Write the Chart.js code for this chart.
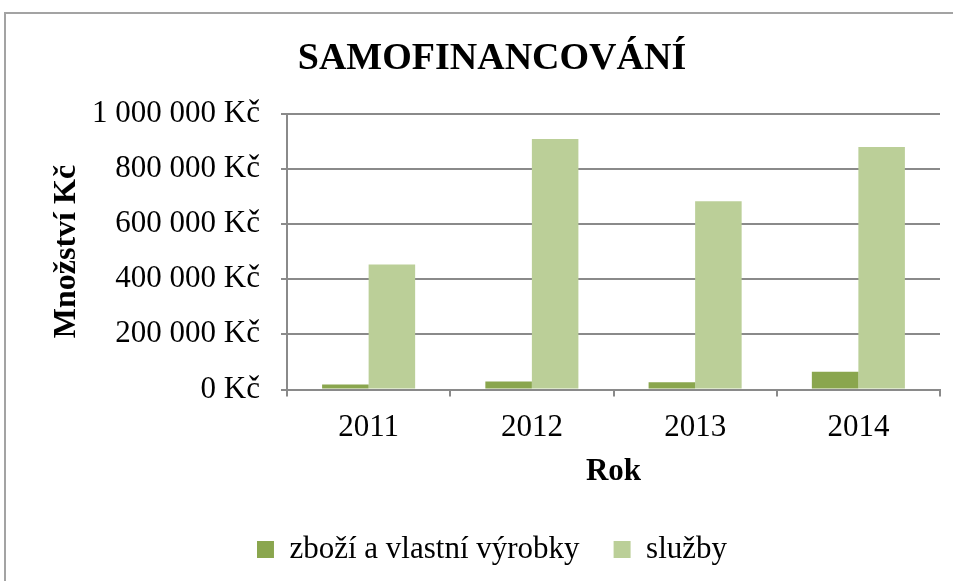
<!DOCTYPE html>
<html>
<head>
<meta charset="utf-8">
<script src="https://cdn.jsdelivr.net/npm/chart.js@4.4.1/dist/chart.umd.min.js"></script>
<style>
  html, body { margin: 0; padding: 0; background: #ffffff; overflow: hidden; }
  #wrap { position: relative; width: 953px; height: 581px; overflow: hidden; }
  #frame { position: absolute; left: 4px; top: 12px; width: 1000px; height: 700px; border: 2px solid #a3a3a3; box-sizing: border-box; }
  canvas { position: absolute; left: 0; top: 0; }
</style>
</head>
<body>
<div id="wrap">
  <div id="frame"></div>
  <canvas id="c" width="953" height="581"></canvas>
</div>
<script>
const categories = ['2011', '2012', '2013', '2014'];
const seriesNames = ['zboží a vlastní výrobky', 'služby'];
const zboziValues = [18000, 29000, 26000, 64000];
const sluzbyValues = [453000, 908000, 682000, 879000];
const yTickValues = [0, 200000, 400000, 600000, 800000, 1000000];
const yTickLabels = ['0 Kč', '200 000 Kč', '400 000 Kč', '600 000 Kč', '800 000 Kč', '1 000 000 Kč'];
const chartTitle = 'SAMOFINANCOVÁNÍ';
const xTitle = 'Rok';
const yTitle = 'Množství Kč';

const serif = "'Liberation Serif', 'Times New Roman', serif";
const gray = '#8a8a8a';

new Chart(document.getElementById('c'), {
  type: 'bar',
  data: {
    labels: categories,
    datasets: [
      { label: seriesNames[0], data: zboziValues, backgroundColor: '#8aa64e', borderWidth: 0 },
      { label: seriesNames[1], data: sluzbyValues, backgroundColor: '#bbcf98', borderWidth: 0 }
    ]
  },
  options: {
    responsive: false,
    animation: false,
    devicePixelRatio: 1,
    layout: { padding: { left: 44, right: 13, top: 10, bottom: 6 } },
    datasets: { bar: { categoryPercentage: 0.57, barPercentage: 1.0 } },
    plugins: {
      title: {
        display: true,
        text: chartTitle,
        color: '#000',
        font: { family: serif, size: 38, weight: 'bold' },
        padding: { top: 26, bottom: 32 }
      },
      legend: {
        display: true,
        position: 'bottom',
        labels: {
          color: '#000',
          font: { family: serif, size: 31 },
          boxWidth: 17,
          boxHeight: 17,
          padding: 34
        }
      },
      tooltip: { enabled: false }
    },
    scales: {
      x: {
        grid: { offset: true, drawOnChartArea: false, drawTicks: true, tickLength: 7, color: gray, lineWidth: 2 },
        border: { display: true, color: gray, width: 2 },
        ticks: { color: '#000', font: { family: serif, size: 31 }, padding: 13 },
        title: { display: true, text: xTitle, color: '#000', font: { family: serif, size: 31, weight: 'bold' }, padding: { top: 4, bottom: 9 } },
        afterFit: (s) => { s.height = 110.5; }
      },
      y: {
        min: 0,
        max: 1000000,
        afterBuildTicks: (s) => { s.ticks = yTickValues.map(v => ({ value: v })); },
        grid: { drawOnChartArea: true, drawTicks: true, tickLength: 6, color: gray, lineWidth: 2 },
        border: { display: true, color: gray, width: 2 },
        ticks: {
          color: '#000',
          font: { family: serif, size: 31 },
          padding: 21,
          callback: (v) => { const i = yTickValues.indexOf(v); return i >= 0 ? yTickLabels[i] : ''; }
        },
        title: { display: true, text: yTitle, color: '#000', font: { family: serif, size: 32, weight: 'bold' }, padding: { top: 4, bottom: 4 } },
        afterFit: (s) => { s.width = 243; }
      }
    }
  }
});
</script>
</body>
</html>
